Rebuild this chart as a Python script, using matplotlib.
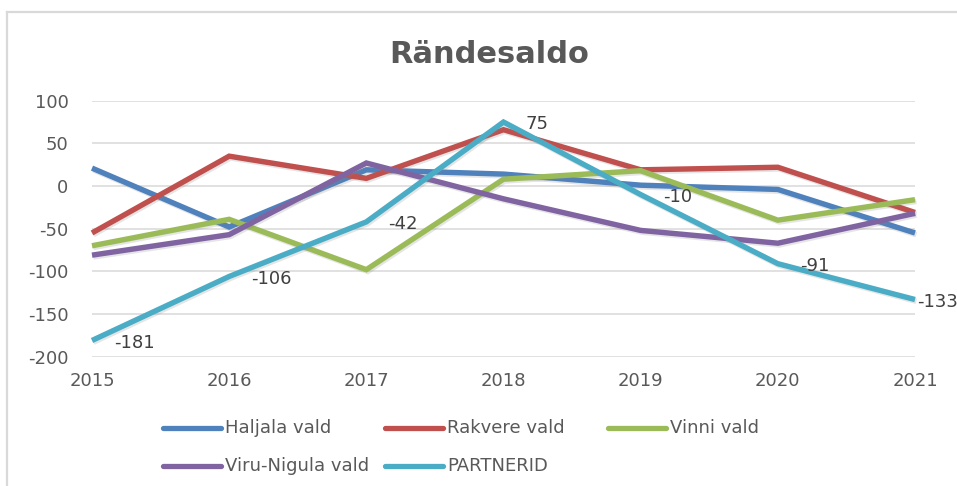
import matplotlib
matplotlib.use("Agg")
import matplotlib.pyplot as plt
from matplotlib.lines import Line2D
import matplotlib.patheffects as pe

years = ["2015", "2016", "2017", "2018", "2019", "2020", "2021"]
haljala = [21, -48, 19, 14, 1, -4, -55]
rakvere = [-55, 35, 9, 66, 19, 22, -31]
vinni = [-70, -39, -98, 8, 18, -40, -16]
viru_nigula = [-81, -57, 27, -15, -52, -67, -32]
partnerid = [-181, -106, -42, 75, -10, -91, -133]

series_names = ["Haljala vald", "Rakvere vald", "Vinni vald", "Viru-Nigula vald", "PARTNERID"]
series_values = [haljala, rakvere, vinni, viru_nigula, partnerid]
colors = ["#4F81BD", "#C0504D", "#9BBB59", "#8064A2", "#4BACC6"]

title = "Rändesaldo"
yticks = [-200, -150, -100, -50, 0, 50, 100]

W, H = 957, 486
fig = plt.figure(figsize=(W / 100, H / 100), dpi=100)
plt.rcParams['font.family'] = ['DejaVu Sans']

def fx(px):
    return px / W

def fy(py):
    return (H - py) / H

ax = fig.add_axes([fx(92), fy(356.7), fx(915) - fx(92), fy(100.7) - fy(356.7)])
x = list(range(len(years)))

shadow = [pe.SimpleLineShadow(offset=(1.0, -1.3), shadow_color="#7f7f7f", alpha=0.2), pe.Normal()]
for name, vals, c in zip(series_names, series_values, colors):
    ax.plot(x, vals, color=c, lw=3.9, clip_on=False, solid_capstyle="butt",
            solid_joinstyle="miter", path_effects=shadow, zorder=3, label=name)

# data labels for PARTNERID
for i, v in enumerate(partnerid):
    off = 2 if i == len(partnerid) - 1 else 22
    ax.annotate(str(v), (i, v), xytext=(off * 0.72, -1.5), textcoords="offset points",
                ha="left", va="center", fontsize=13, color="#404040", zorder=5,
                annotation_clip=False)

ax.set_xlim(0, len(years) - 1)
ax.set_ylim(-200, 100)
ax.set_yticks(yticks)
ax.set_yticklabels([str(t) for t in yticks])
ax.set_xticks(x)
ax.set_xticklabels(years)
ax.tick_params(axis="both", length=0, labelsize=13, labelcolor="#595959")
ax.tick_params(axis="y", pad=17)
ax.tick_params(axis="x", pad=11)
ax.grid(axis="y", color="#d9d9d9", lw=1.1, zorder=0)
ax.set_axisbelow(True)
for s in ax.spines.values():
    s.set_visible(False)

fig.text(fx(489), fy(63), title, ha="center", va="baseline", fontsize=22,
         fontweight="bold", color="#595959")

# legend (manual layout)
leg_pos = [(163, 428), (385, 428), (608, 428), (163, 466), (385, 466)]
for (lx, ly), name, c in zip(leg_pos, series_names, colors):
    fig.add_artist(Line2D([fx(lx), fx(lx + 58)], [fy(ly), fy(ly)], color=c, lw=3.8,
                          solid_capstyle="round", transform=fig.transFigure))
    fig.text(fx(lx + 62), fy(ly), name, ha="left", va="center", fontsize=13, color="#595959")

# chart border
fig.add_artist(Line2D([fx(7), fx(W + 5)], [fy(12.5), fy(12.5)], color="#d9d9d9", lw=1.6,
                      transform=fig.transFigure))
fig.add_artist(Line2D([fx(7.3), fx(7.3)], [fy(12.5), fy(H + 5)], color="#d9d9d9", lw=1.6,
                      transform=fig.transFigure))

fig.savefig("out.png", dpi=100)
